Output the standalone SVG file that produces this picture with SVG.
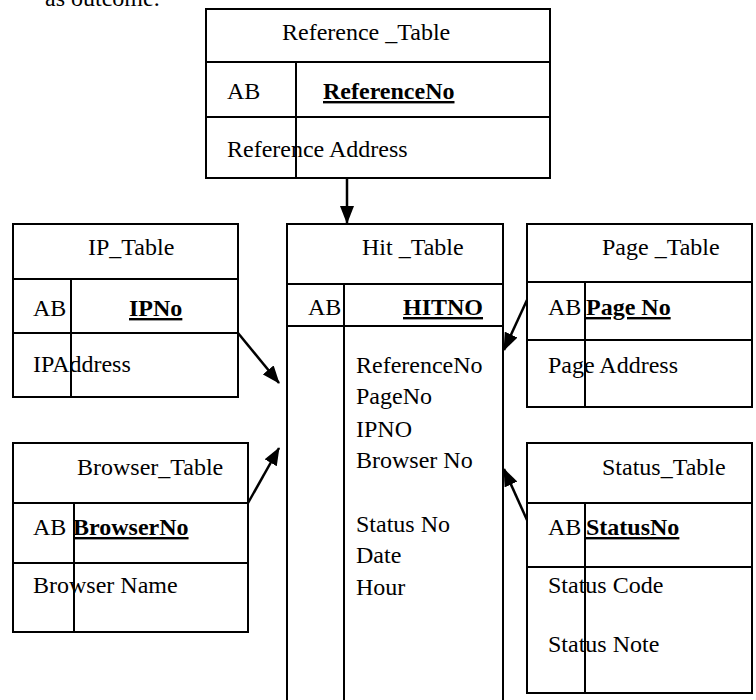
<svg xmlns="http://www.w3.org/2000/svg" width="756" height="700" viewBox="0 0 756 700">
<style>
text{font-family:"Liberation Serif","Times New Roman",serif;font-size:24px;fill:#000}
.k{font-weight:bold;text-decoration:underline}
.box{fill:#fff;stroke:#000;stroke-width:2}
.ln{stroke:#000;stroke-width:2;fill:none}
.cn{stroke:#000;stroke-width:2.5;fill:none}
</style>
<defs>
<marker id="ah" markerUnits="userSpaceOnUse" markerWidth="18" markerHeight="14" refX="17" refY="7" orient="auto">
<path d="M0,0 L18,7 L0,14 Z" fill="#000"/>
</marker>
</defs>
<rect width="756" height="700" fill="#fff"/>
<text x="45" y="6">as outcome.</text>

<g id="reference_table">
<rect class="box" x="206" y="9" width="344" height="169"/>
<line class="ln" x1="206" y1="62" x2="550" y2="62"/>
<line class="ln" x1="206" y1="117" x2="550" y2="117"/>
<line class="ln" x1="296" y1="62" x2="296" y2="178"/>
<text x="282" y="40">Reference _Table</text>
<text x="227" y="99">AB</text>
<text class="k" x="323" y="99">ReferenceNo</text>
<text x="227" y="157">Reference Address</text>
</g>

<g id="ip_table">
<rect class="box" x="13" y="224" width="225" height="173"/>
<line class="ln" x1="13" y1="279" x2="238" y2="279"/>
<line class="ln" x1="13" y1="333" x2="238" y2="333"/>
<line class="ln" x1="71" y1="279" x2="71" y2="397"/>
<text x="88" y="255">IP_Table</text>
<text x="33" y="316">AB</text>
<text class="k" x="129" y="316">IPNo</text>
<text x="33" y="372">IPAddress</text>
</g>

<g id="hit_table">
<path class="ln" d="M287,701 L287,224 L503,224 L503,701"/>
<line class="ln" x1="287" y1="284" x2="503" y2="284"/>
<line class="ln" x1="287" y1="326" x2="503" y2="326"/>
<line class="ln" x1="344" y1="284" x2="344" y2="701"/>
<text x="362" y="255">Hit _Table</text>
<text x="308" y="315">AB</text>
<text class="k" x="403" y="315">HITNO</text>
<text x="356" y="373">ReferenceNo</text>
<text x="356" y="404">PageNo</text>
<text x="356" y="437">IPNO</text>
<text x="356" y="468">Browser No</text>
<text x="356" y="532">Status No</text>
<text x="356" y="563">Date</text>
<text x="356" y="595">Hour</text>
</g>

<g id="page_table">
<rect class="box" x="527" y="224" width="225" height="183"/>
<line class="ln" x1="527" y1="282" x2="752" y2="282"/>
<line class="ln" x1="527" y1="340" x2="752" y2="340"/>
<line class="ln" x1="585" y1="282" x2="585" y2="407"/>
<text x="602" y="255">Page _Table</text>
<text x="548" y="315">AB</text>
<text class="k" x="586" y="315">Page No</text>
<text x="548" y="373">Page Address</text>
</g>

<g id="browser_table">
<rect class="box" x="13" y="443" width="235" height="189"/>
<line class="ln" x1="13" y1="503" x2="248" y2="503"/>
<line class="ln" x1="13" y1="563" x2="248" y2="563"/>
<line class="ln" x1="74" y1="503" x2="74" y2="632"/>
<text x="77" y="475">Browser_Table</text>
<text x="33" y="535">AB</text>
<text class="k" x="73" y="535">BrowserNo</text>
<text x="33" y="593">Browser Name</text>
</g>

<g id="status_table">
<rect class="box" x="527" y="443" width="225" height="250"/>
<line class="ln" x1="527" y1="503" x2="752" y2="503"/>
<line class="ln" x1="527" y1="567" x2="752" y2="567"/>
<line class="ln" x1="585" y1="503" x2="585" y2="693"/>
<text x="602" y="475">Status_Table</text>
<text x="548" y="535">AB</text>
<text class="k" x="586" y="535">StatusNo</text>
<text x="548" y="593">Status Code</text>
<text x="548" y="652">Status Note</text>
</g>

<g id="connectors">
<line class="cn" x1="347" y1="178" x2="347" y2="223" marker-end="url(#ah)"/>
<line class="cn" x1="238" y1="333" x2="279" y2="383" marker-end="url(#ah)"/>
<line class="cn" x1="248" y1="503" x2="279" y2="448" marker-end="url(#ah)"/>
<line class="cn" x1="527" y1="300" x2="504" y2="350" marker-end="url(#ah)"/>
<line class="cn" x1="527" y1="520" x2="504" y2="469" marker-end="url(#ah)"/>
</g>
</svg>
